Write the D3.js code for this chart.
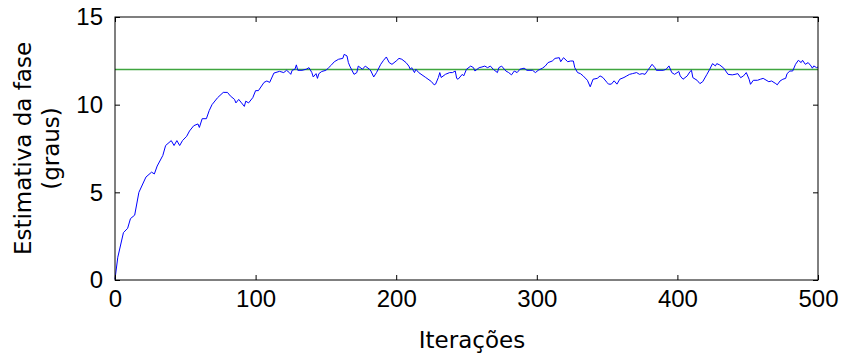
<!DOCTYPE html>
<html>
<head>
<meta charset="utf-8">
<script src="https://cdn.jsdelivr.net/npm/d3@7"></script>
<style>
  body { margin: 0; background: #fff; }
  svg { display: block; }
</style>
</head>
<body>
<div id="chart"></div>
<script>
const iters = [0, 2, 6, 9, 11, 14, 17, 22, 26, 28, 30, 34, 36, 40, 42, 44, 46, 48, 51, 53,
  56, 59, 60, 62, 65, 67, 69, 73, 77, 80, 82, 85, 86, 88, 90, 92, 93, 95, 98, 100,
  102, 106, 108, 110, 113, 117, 120, 122, 124, 125, 126, 128, 129, 130, 133, 136, 138, 140, 141, 143,
  144, 145, 147, 150, 152, 154, 156, 159, 162, 163, 165, 166, 167, 170, 172, 173, 176, 178, 181, 182,
  184, 186, 189, 191, 193, 195, 197, 200, 202, 204, 207, 209, 210, 211, 213, 214, 216, 221, 225, 227,
  228, 230, 231, 232, 235, 238, 240, 242, 243, 244, 247, 248, 250, 253, 255, 256, 259, 261, 263, 265,
  267, 269, 272, 273, 275, 278, 280, 282, 284, 286, 288, 291, 293, 297, 299, 301, 304, 306, 308, 311,
  313, 316, 317, 319, 322, 324, 326, 327, 329, 331, 333, 336, 338, 340, 343, 345, 347, 350, 351, 353,
  355, 357, 359, 362, 364, 366, 368, 371, 373, 375, 377, 379, 382, 384, 385, 390, 392, 394, 396, 398,
  401, 402, 404, 407, 409, 410, 411, 414, 416, 418, 421, 423, 425, 427, 428, 430, 433, 436, 439, 441,
  443, 445, 447, 449, 451, 452, 454, 457, 459, 461, 465, 467, 470, 471, 473, 475, 477, 478, 480, 482,
  484, 486, 488, 489, 491, 493, 495, 496, 497, 499, 500];

// phase estimate (degrees)
const phase = [0.05, 1.3, 2.7, 2.95, 3.5, 3.7, 5.0, 5.87, 6.15, 6.05, 6.5, 7.1, 7.67, 7.95, 7.67, 7.95, 7.67, 7.95, 8.2, 8.5,
  8.8, 8.9, 8.7, 9.2, 9.2, 9.66, 10.0, 10.4, 10.7, 10.7, 10.5, 10.3, 10.1, 10.3, 10.1, 9.9, 10.2, 10.1, 10.4, 10.8,
  10.8, 11.27, 11.35, 11.27, 11.8, 11.9, 11.83, 11.96, 11.83, 11.73, 11.96, 12.02, 12.27, 11.96, 11.96, 12.02, 12.11, 11.83, 11.58, 11.77,
  11.5, 11.77, 11.89, 11.96, 12.11, 12.27, 12.45, 12.59, 12.64, 12.87, 12.78, 12.4, 12.2, 11.73, 11.83, 12.2, 12.02, 12.2, 12.02, 11.92,
  11.58, 11.83, 12.3, 12.53, 12.72, 12.4, 12.3, 12.49, 12.64, 12.59, 12.4, 12.2, 12.02, 12.11, 11.83, 12.02, 11.83, 11.55, 11.32, 11.13,
  11.17, 11.55, 11.83, 11.55, 11.73, 11.83, 11.83, 11.92, 11.5, 11.45, 11.73, 11.64, 12.02, 12.2, 12.11, 11.92, 12.11, 12.15, 12.2, 12.11,
  12.2, 12.02, 11.83, 12.11, 12.2, 11.92, 11.83, 11.7, 11.92, 11.83, 12.02, 12.08, 11.96, 11.96, 11.83, 11.96, 12.08, 12.2, 12.4, 12.49,
  12.64, 12.68, 12.45, 12.68, 12.45, 12.49, 12.49, 12.11, 11.83, 11.77, 11.64, 11.39, 11.02, 11.45, 11.5, 11.64, 11.55, 11.26, 11.17, 11.17,
  11.36, 11.17, 11.45, 11.55, 11.64, 11.73, 11.77, 11.83, 11.73, 11.77, 11.73, 11.96, 12.3, 12.11, 11.96, 11.96, 12.02, 12.21, 11.83, 11.73,
  11.89, 11.64, 11.45, 11.64, 11.89, 11.96, 11.54, 11.39, 11.2, 11.31, 11.73, 12.02, 12.34, 12.21, 12.34, 12.27, 12.08, 11.73, 11.7, 11.73,
  11.77, 11.54, 11.64, 11.83, 11.45, 11.16, 11.39, 11.39, 11.45, 11.5, 11.31, 11.35, 11.2, 11.13, 11.35, 11.45, 11.5, 11.77, 11.92, 11.92,
  12.3, 12.53, 12.4, 12.53, 12.3, 12.4, 12.21, 12.08, 12.21, 12.11, 12.15];

const truePhase = 12;
const xTicks = [0, 100, 200, 300, 400, 500];
const yTicks = [0, 5, 10, 15];

const width = 841, height = 358;
const margin = { top: 17, right: 23, bottom: 78, left: 115 };
const w = width - margin.left - margin.right;
const h = height - margin.top - margin.bottom;

const svg = d3.select('#chart').append('svg')
  .attr('width', width)
  .attr('height', height);

const g = svg.append('g').attr('transform', `translate(${margin.left},${margin.top})`);

const x = d3.scaleLinear().domain([0, 500]).range([0, w]);
const y = d3.scaleLinear().domain([0, 15]).range([h, 0]);

// reference level
g.append('line')
  .attr('x1', x(0)).attr('x2', x(500))
  .attr('y1', y(truePhase)).attr('y2', y(truePhase))
  .attr('stroke', '#3fa53f')
  .attr('stroke-width', 1.5);

// estimate
const pts = iters.map((d, i) => [d, phase[i]]);
g.append('path')
  .datum(pts)
  .attr('fill', 'none')
  .attr('stroke', '#0000ff')
  .attr('stroke-width', 1)
  .attr('d', d3.line().x(d => x(d[0])).y(d => y(d[1])));

// axes, ticks pointing inward like matlab
const tickFont = '"Liberation Sans", Arial, sans-serif';
const styleAxis = sel => {
  sel.select('.domain').remove();
  sel.selectAll('line').attr('stroke', '#000');
  sel.selectAll('text').attr('font-family', tickFont).attr('font-size', 24).attr('fill', '#000');
};

g.append('g')
  .attr('transform', `translate(0,${h})`)
  .call(d3.axisBottom(x).tickValues(xTicks).tickSizeInner(-5).tickPadding(10).tickFormat(d3.format('d')))
  .call(styleAxis);

g.append('g')
  .call(d3.axisLeft(y).tickValues(yTicks).tickSizeInner(-5).tickPadding(12).tickFormat(d3.format('d')))
  .call(styleAxis);

g.append('g')
  .call(d3.axisTop(x).tickValues(xTicks).tickSizeInner(-5).tickFormat(''))
  .call(styleAxis);

g.append('g')
  .attr('transform', `translate(${w},0)`)
  .call(d3.axisRight(y).tickValues(yTicks).tickSizeInner(-5).tickFormat(''))
  .call(styleAxis);

// frame
g.append('rect')
  .attr('x', 0).attr('y', 0)
  .attr('width', w).attr('height', h)
  .attr('fill', 'none')
  .attr('stroke', '#000')
  .attr('stroke-width', 1);

// labels
const labelFont = '"DejaVu Sans", sans-serif';
svg.append('text')
  .attr('x', 472).attr('y', 348)
  .attr('text-anchor', 'middle')
  .attr('font-family', labelFont).attr('font-size', 23)
  .text('Iterações');

const yl = svg.append('text')
  .attr('transform', `translate(0,${margin.top + h / 2}) rotate(-90)`)
  .attr('text-anchor', 'middle')
  .attr('font-family', labelFont).attr('font-size', 23);
yl.append('tspan').attr('x', 0).attr('y', 31).text('Estimativa da fase');
yl.append('tspan').attr('x', 0).attr('y', 59).text('(graus)');
</script>
</body>
</html>
